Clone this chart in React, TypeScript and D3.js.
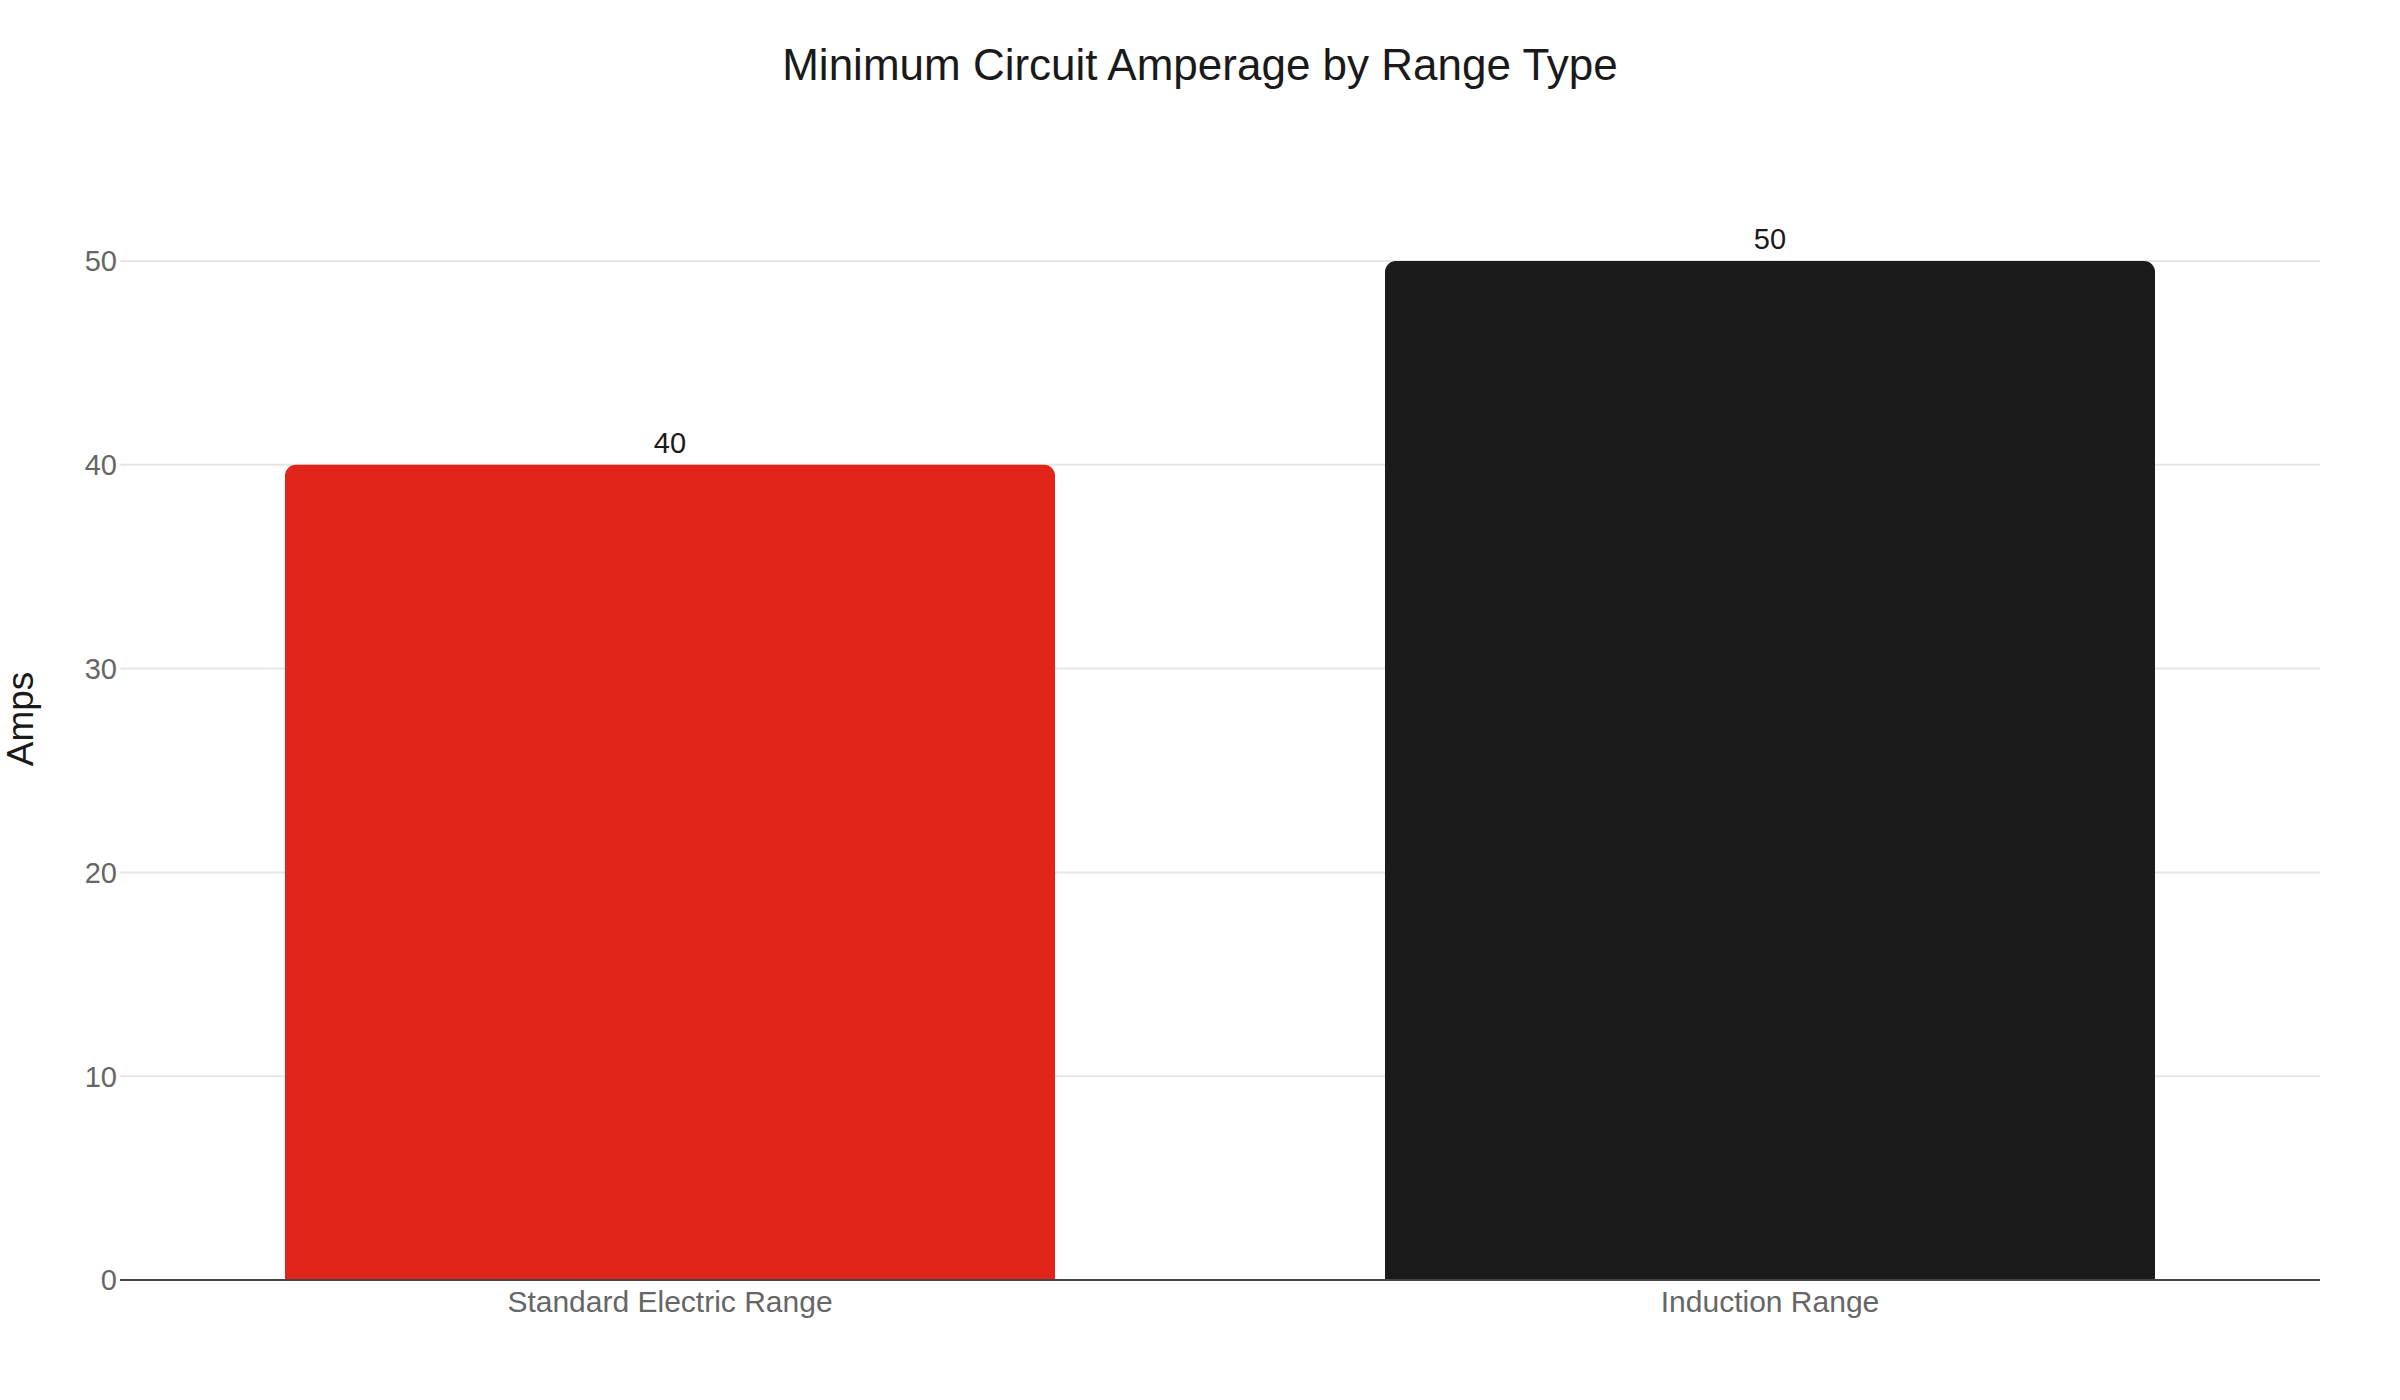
import React from "react";
import * as d3 from "d3";

const categories = ["Standard Electric Range", "Induction Range"];
const values = [40, 50];
const barColors = ["#e1251b", "#1b1b1b"];
const yTicks = [0, 10, 20, 30, 40, 50];
const title = "Minimum Circuit Amperage by Range Type";
const yLabel = "Amps";

const W = 2400;
const H = 1400;
const margin = { left: 120, right: 80, top: 261, bottom: 120 };

export default function App() {
  const x = d3
    .scaleBand<string>()
    .domain(categories)
    .range([margin.left, W - margin.right])
    .paddingInner(0.3)
    .paddingOuter(0.15);
  const y = d3.scaleLinear().domain([0, 50]).range([H - margin.bottom, margin.top]);
  const font = "'Liberation Sans', Arial, Helvetica, sans-serif";
  const r = 11;

  const barPath = (x0: number, x1: number, yTop: number, yBot: number) => {
    const p = d3.path();
    p.moveTo(x0, yBot);
    p.lineTo(x0, yTop + r);
    p.arcTo(x0, yTop, x0 + r, yTop, r);
    p.lineTo(x1 - r, yTop);
    p.arcTo(x1, yTop, x1, yTop + r, r);
    p.lineTo(x1, yBot);
    p.closePath();
    return p.toString();
  };

  return (
    <div style={{ position: "absolute", left: 0, top: 0 }}>
      <svg width={W} height={H} style={{ display: "block", background: "#fff" }} fontFamily={font}>
        <text x={1200} y={80} textAnchor="middle" fontSize={44} fill="#1a1a1a">
          {title}
        </text>
        {yTicks.map((t) => (
          <g key={t}>
            {t !== 0 && (
              <line x1={margin.left} x2={W - margin.right} y1={y(t)} y2={y(t)} stroke="#e6e6e6" strokeWidth={2} />
            )}
            <text x={margin.left - 3} y={y(t)} dy="0.36em" textAnchor="end" fontSize={29} fill="#666">
              {t}
            </text>
          </g>
        ))}
        {categories.map((c, i) => {
          const x0 = x(c)!;
          const x1 = x0 + x.bandwidth();
          return (
            <g key={c}>
              <path d={barPath(x0, x1, y(values[i]), y(0))} fill={barColors[i]} />
              <text x={x0 + x.bandwidth() / 2} y={y(values[i]) - 12} textAnchor="middle" fontSize={29} fill="#1a1a1a">
                {values[i]}
              </text>
              <text x={x0 + x.bandwidth() / 2} y={y(0) + 32} textAnchor="middle" fontSize={30} fill="#666">
                {c}
              </text>
            </g>
          );
        })}
        <line x1={margin.left} x2={W - margin.right} y1={y(0)} y2={y(0)} stroke="#444" strokeWidth={2} />
        <text
          transform={`translate(33, 719) rotate(-90)`}
          textAnchor="middle"
          fontSize={37}
          fill="#1a1a1a"
        >
          {yLabel}
        </text>
      </svg>
    </div>
  );
}
